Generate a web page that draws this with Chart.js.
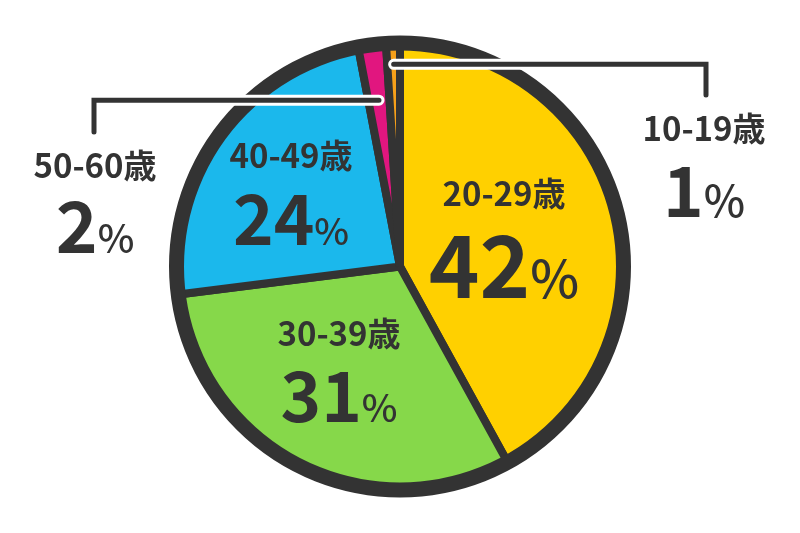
<!DOCTYPE html>
<html>
<head>
<meta charset="utf-8">
<script src="https://cdn.jsdelivr.net/npm/chart.js@4"></script>
<style>
html,body{margin:0;padding:0;background:#fff;}
#wrap{width:800px;height:533px;position:relative;}
</style>
</head>
<body>
<div id="wrap"><canvas id="c" width="800" height="533"></canvas></div>
<script>
// ---- data ----
const categories = ['20-29歳', '30-39歳', '40-49歳', '50-60歳', '10-19歳'];
const shares = [42, 31, 24, 2, 1];
const sliceColors = ['#FFD000', '#86D84A', '#1BB8EC', '#E1167F', '#F6A01A'];

// ---- layout / styles ----
const DARK = '#333333';
const FONT = "'Noto Sans CJK JP', 'Noto Sans', sans-serif";
// per slice: label x, title baseline, number baseline, number font size, % font size, leader
const labelLayout = [
  { x: 504, titleY: 206, numY: 298, numSize: 86, pctSize: 52 },
  { x: 339, titleY: 346, numY: 422, numSize: 69, pctSize: 38 },
  { x: 291, titleY: 168, numY: 245, numSize: 69, pctSize: 37 },
  { x: 95,  titleY: 178, numY: 253, numSize: 71, pctSize: 39 },
  { x: 704, titleY: 141, numY: 217, numSize: 69, pctSize: 44 }
];
const leaders = [null, null, null, { r: 0.75, elbowX: 94, endY: 132 }, { r: 0.905, elbowX: 706, endY: 95 }];

const overlayPlugin = {
  id: 'overlay',
  afterDatasetsDraw(chart) {
    const ctx = chart.ctx;
    const meta = chart.getDatasetMeta(0);
    const a0 = meta.data[0];
    const cx = a0.x, cy = a0.y, R = a0.outerRadius;
    ctx.save();
    // thick outer ring
    ctx.beginPath();
    ctx.arc(cx, cy, R, 0, Math.PI * 2);
    ctx.lineWidth = 15;
    ctx.strokeStyle = DARK;
    ctx.stroke();

    // leader lines
    meta.data.forEach((arc, i) => {
      const L = leaders[i];
      if (!L) return;
      const mid = (arc.startAngle + arc.endAngle) / 2;
      const sx = cx + Math.cos(mid) * R * L.r;
      const sy = cy + Math.sin(mid) * R * L.r;
      const path = () => {
        ctx.beginPath();
        ctx.moveTo(sx, sy);
        ctx.lineTo(L.elbowX, sy);
        ctx.lineTo(L.elbowX, L.endY);
      };
      ctx.lineCap = 'round';
      ctx.lineJoin = 'miter';
      path();
      ctx.strokeStyle = '#ffffff';
      ctx.lineWidth = 11;
      ctx.stroke();
      path();
      ctx.strokeStyle = DARK;
      ctx.lineWidth = 5;
      ctx.stroke();
    });

    // labels
    ctx.fillStyle = DARK;
    ctx.textBaseline = 'alphabetic';
    categories.forEach((cat, i) => {
      const lay = labelLayout[i];
      ctx.font = `bold 33px ${FONT}`;
      ctx.textAlign = 'center';
      ctx.fillText(cat, lay.x, lay.titleY);
      const num = String(shares[i]);
      ctx.font = `bold ${lay.numSize}px ${FONT}`;
      const wn = ctx.measureText(num).width;
      ctx.font = `500 ${lay.pctSize}px ${FONT}`;
      const wp = ctx.measureText('%').width;
      const start = lay.x - (wn + wp) / 2;
      ctx.textAlign = 'left';
      ctx.font = `bold ${lay.numSize}px ${FONT}`;
      ctx.fillText(num, start, lay.numY);
      ctx.font = `500 ${lay.pctSize}px ${FONT}`;
      ctx.fillText('%', start + wn, lay.numY);
    });
    ctx.restore();
  }
};

new Chart(document.getElementById('c'), {
  type: 'pie',
  data: {
    labels: categories,
    datasets: [{
      data: shares,
      backgroundColor: sliceColors,
      borderColor: DARK,
      borderWidth: 8,
      hoverBorderWidth: 8,
      borderAlign: 'center'
    }]
  },
  options: {
    responsive: false,
    animation: false,
    events: [],
    layout: { padding: { top: 39, bottom: 39, left: 0, right: 0 } },
    plugins: { legend: { display: false }, tooltip: { enabled: false } }
  },
  plugins: [overlayPlugin]
});
</script>
</body>
</html>
